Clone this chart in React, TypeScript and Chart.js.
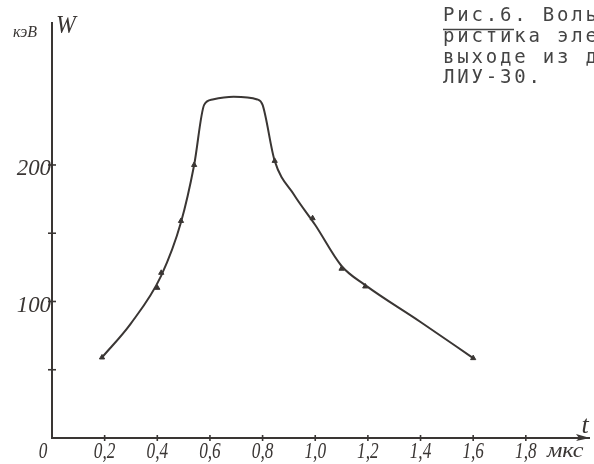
import React, { useEffect, useRef } from 'react';
import { Chart, registerables } from 'chart.js';

Chart.register(...registerables);

// Smooth curve knots (t in мкс, W in кэВ)
const curveT = [0.19, 0.30, 0.415, 0.49, 0.54, 0.578, 0.61, 0.69, 0.78, 0.80, 0.846, 0.92, 1.00, 1.10, 1.19, 1.40, 1.60];
const curveW = [59, 84, 119, 158, 200, 244, 248, 250, 248, 244, 203, 178, 156, 126, 112, 85, 58.5];

// Measured points marked on the curve
const pointT = [0.19, 0.40, 0.415, 0.49, 0.54, 0.846, 0.99, 1.10, 1.19, 1.60];
const pointW = [59, 110, 121, 159, 200, 203, 161, 124, 111, 58.5];

const xTickValues = [0, 0.2, 0.4, 0.6, 0.8, 1.0, 1.2, 1.4, 1.6, 1.8];
const xTickLabels = ['0', '0,2', '0,4', '0,6', '0,8', '1,0', '1,2', '1,4', '1,6', '1,8'];
const yTickValues = [50, 100, 150, 200];
const yTickLabels = ['', '100', '', '200'];

const xUnit = 'мкс';
const xName = 't';
const yUnit = 'кэВ';
const yName = 'W';
const captionLines = [
  'Рис.6. Вольт-секундная характе-',
  'ристика электронного пучка на',
  'выходе из диода ускорителя',
  'ЛИУ-30.',
];

const INK = '#3a3634';
const HAND = '"Liberation Serif", serif';

function drawText(
  ctx: CanvasRenderingContext2D,
  text: string,
  x: number,
  y: number,
  font: string,
  sx: number,
  align: CanvasTextAlign,
  baseline: CanvasTextBaseline = 'alphabetic'
) {
  ctx.save();
  ctx.translate(x, y);
  ctx.scale(sx, 1);
  ctx.font = font;
  ctx.textAlign = align;
  ctx.textBaseline = baseline;
  ctx.fillText(text, 0, 0);
  ctx.restore();
}

const decor = {
  id: 'decor',
  beforeDraw(chart: any) {
    const { ctx, width, height } = chart;
    ctx.save();
    ctx.fillStyle = '#ffffff';
    ctx.fillRect(0, 0, width, height);
    ctx.restore();
  },
  afterDraw(chart: any) {
    const { ctx, chartArea } = chart;
    const xs = chart.scales.x;
    const ys = chart.scales.y;
    const x0 = xs.getPixelForValue(0);
    const y0 = ys.getPixelForValue(0);
    ctx.save();
    ctx.strokeStyle = INK;
    ctx.fillStyle = INK;
    ctx.lineWidth = 1.6;

    // y ticks and labels
    yTickValues.forEach((v, i) => {
      const py = ys.getPixelForValue(v);
      ctx.beginPath();
      ctx.moveTo(x0 - 4, py);
      ctx.lineTo(x0 + 4, py);
      ctx.stroke();
      if (yTickLabels[i]) {
        drawText(ctx, yTickLabels[i], x0 - 1, py + 4, `italic 24px ${HAND}`, 0.95, 'right', 'middle');
      }
    });

    // x ticks and labels
    xTickValues.forEach((v, i) => {
      const px = xs.getPixelForValue(v);
      if (v !== 0) {
        ctx.beginPath();
        ctx.moveTo(px, y0 - 3);
        ctx.lineTo(px, y0 + 3);
        ctx.stroke();
      }
      const lx = v === 0 ? px - 9 : px;
      drawText(ctx, xTickLabels[i], lx, y0 + 20, `italic 23px ${HAND}`, 0.75, 'center');
    });

    // x unit and name
    drawText(ctx, xUnit, xs.getPixelForValue(1.88), y0 + 19, `italic 21px ${HAND}`, 1.15, 'left');
    drawText(ctx, xName, chartArea.right - 4, y0 - 5, `italic 26px ${HAND}`, 1, 'center');

    // arrow at x axis end
    const ax = chartArea.right;
    ctx.beginPath();
    ctx.moveTo(ax + 1, y0);
    ctx.lineTo(ax - 13, y0 - 4);
    ctx.lineTo(ax - 10, y0);
    ctx.lineTo(ax - 13, y0 + 3);
    ctx.closePath();
    ctx.fill();

    // y unit and name
    const yTop = chartArea.top;
    drawText(ctx, yUnit, x0 - 15, yTop + 14, `italic 16px ${HAND}`, 1, 'right');
    drawText(ctx, yName, x0 + 4, yTop + 10, `italic 25px ${HAND}`, 0.95, 'left');

    // caption (typewritten)
    ctx.fillStyle = '#444444';
    ctx.font = '19px "DejaVu Sans Mono", monospace';
    (ctx as any).letterSpacing = '2.8px';
    ctx.textAlign = 'left';
    ctx.textBaseline = 'alphabetic';
    const baselines = [21, 42, 63, 83];
    captionLines.forEach((line, i) => {
      ctx.fillText(line, 443, baselines[i]);
    });
    (ctx as any).letterSpacing = '0px';
    ctx.strokeStyle = '#444444';
    ctx.lineWidth = 1.3;
    ctx.beginPath();
    ctx.moveTo(443, 29.5);
    ctx.lineTo(514, 29.5);
    ctx.stroke();

    ctx.restore();
  },
};

export default function App() {
  const ref = useRef<HTMLCanvasElement | null>(null);

  useEffect(() => {
    if (!ref.current) return;
    const chart = new Chart(ref.current, {
      type: 'line',
      data: {
        datasets: [
          {
            data: curveT.map((t, i) => ({ x: t, y: curveW[i] })),
            borderColor: INK,
            borderWidth: 2,
            pointRadius: 0,
            cubicInterpolationMode: 'monotone',
            fill: false,
          },
          {
            data: pointT.map((t, i) => ({ x: t, y: pointW[i] })),
            showLine: false,
            pointStyle: 'triangle',
            pointRadius: 3,
            pointBackgroundColor: INK,
            pointBorderColor: INK,
            pointBorderWidth: 1,
          },
        ],
      },
      options: {
        animation: false,
        responsive: false,
        devicePixelRatio: 1,
        layout: { padding: { top: 23, right: 5, left: 0, bottom: 0 } },
        plugins: { legend: { display: false }, tooltip: { enabled: false } },
        scales: {
          x: {
            type: 'linear',
            min: 0,
            max: 2.04,
            grid: { display: false },
            ticks: { display: false },
            border: { display: true, color: INK, width: 2 },
            afterFit: (s: any) => {
              s.height = 26;
            },
          },
          y: {
            type: 'linear',
            min: 0,
            max: 304,
            grid: { display: false },
            ticks: { display: false },
            border: { display: true, color: INK, width: 2 },
            afterFit: (s: any) => {
              s.width = 52;
            },
          },
        },
      },
      plugins: [decor],
    } as any);
    return () => chart.destroy();
  }, []);

  return (
    <div style={{ position: 'fixed', left: 0, top: 0, width: 594, height: 464, background: '#fff' }}>
      <canvas ref={ref} width={594} height={464} style={{ width: 594, height: 464, display: 'block' }} />
    </div>
  );
}
